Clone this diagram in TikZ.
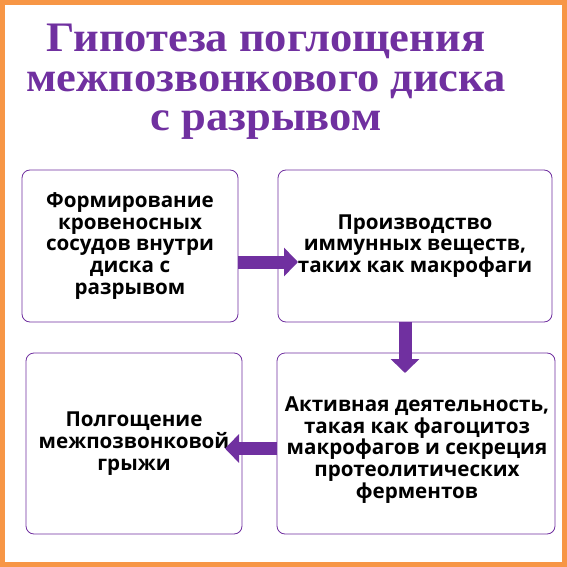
\documentclass[tikz,border=0pt]{standalone}
\usepackage{fontspec}
\setmainfont{Liberation Serif}
\newfontfamily\titlefont[FakeStretch=1.06]{Liberation Serif}
\newfontfamily\boxfont{Open Sans}
\usetikzlibrary{arrows.meta}
\definecolor{hypopurple}{HTML}{7030A0}
\definecolor{frameorange}{HTML}{F79646}

\begin{document}
\begin{tikzpicture}[
  x=1pt, y=-1pt,
  every node/.style={text=black},
  stage/.style={draw=hypopurple, line width=0.8pt, fill=white,
    rounded corners=8pt, inner sep=0pt, outer sep=0pt, align=center,
    font=\boxfont\bfseries\fontsize{20.6}{21.7}\selectfont},
  flow/.style={hypopurple, line width=13pt,
    -{Triangle[width=28pt,length=14pt]}}
]
  \fill[frameorange] (0,0) rectangle (567,567);
  \fill[white] (5,5) rectangle (562,562);
  \node[text=hypopurple, align=center, inner sep=0pt,
    font=\titlefont\bfseries\fontsize{42}{39.5}\selectfont] (title) at (266,82)
    {Гипотеза поглощения\\межпозвонкового диска\\с разрывом};

  \node[stage, minimum width=216pt, minimum height=152pt] (vessels) at (130,246)
    {Формирование\\кровеносных\\сосудов внутри\\диска с\\разрывом};
  \node[stage, minimum width=274pt, minimum height=152pt] (immune) at (415,246)
    {Производство\\иммунных веществ,\\таких как макрофаги};
  \node[stage, minimum width=278pt, minimum height=181pt] (enzymes) at (416,443.5) {};
  \node[stage, draw=none, fill=none] (enzymestext) at (417,450)
    {Активная деятельность,\\такая как фагоцитоз\\макрофагов и секреция\\протеолитических\\ферментов};
  \node[stage, minimum width=216pt, minimum height=181pt] (resorb) at (134,443.5)
    {Полгощение\\межпозвонковой\\грыжи};

  \draw[flow] ([yshift=-16pt]vessels.east) -- ([xshift=20pt,yshift=-16pt]immune.west);
  \draw[flow] ([xshift=-10pt]immune.south) -- ([xshift=-11pt,yshift=-20pt]enzymes.north);
  \draw[flow] ([yshift=-5pt]enzymes.west) -- ([xshift=-17pt,yshift=-5pt]resorb.east);
\end{tikzpicture}
\end{document}
